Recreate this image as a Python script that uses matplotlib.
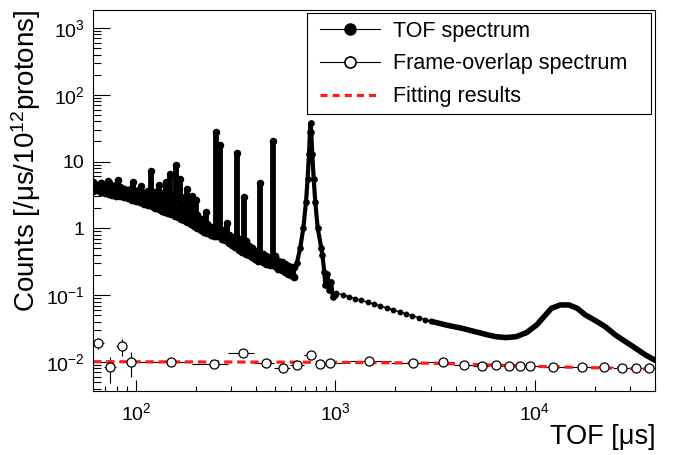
import matplotlib
matplotlib.use('Agg')
import matplotlib.pyplot as plt
import numpy as np
from matplotlib.lines import Line2D
from matplotlib.patches import Rectangle

plt.rcParams['font.family'] = ['Liberation Sans', 'DejaVu Sans']
plt.rcParams['mathtext.fontset'] = 'custom'
plt.rcParams['mathtext.rm'] = 'Liberation Sans'
plt.rcParams['mathtext.it'] = 'Liberation Sans:italic'

# TOF spectrum below ~640 us: upper / lower edge of the point band
band_x = [61, 64, 67, 70, 73, 76, 79, 83, 87, 91, 95, 100, 105, 110, 115, 120,
          125, 130, 135, 140, 145, 150, 156, 162, 168, 174, 181, 188, 195, 203,
          211, 219, 228, 237, 245, 256, 270, 280, 292, 303, 315, 330, 340, 355,
          368, 382, 396, 410, 432, 450, 468, 500, 518, 537, 557, 578, 600, 622]
band_hi = [4.9, 4.5, 4.8, 4.5, 4.7, 4.3, 4.4, 4.1, 3.9, 3.8, 4.0, 3.6, 3.9, 3.4,
           3.6, 3.3, 3.5, 3.0, 3.4, 3.3, 3.0, 3.2, 2.9, 2.8, 2.9, 2.3, 2.2, 2.0,
           1.9, 1.6, 1.4, 1.3, 1.15, 1.05, 1.0, 2.4, 0.95, 0.85, 0.80, 0.74, 0.68,
           0.70, 0.62, 0.65, 0.54, 0.50, 0.46, 0.43, 0.42, 0.38, 0.36, 0.38, 0.33,
           0.31, 0.29, 0.27, 0.26, 0.26]
band_lo = [3.6, 3.7, 3.5, 3.4, 3.3, 3.2, 3.1, 3.0, 2.9, 2.8, 2.65, 2.55, 2.45,
           2.35, 2.25, 2.15, 2.05, 1.95, 1.85, 1.78, 1.70, 1.62, 1.55, 1.48, 1.40,
           1.33, 1.25, 1.17, 1.08, 1.0, 0.93, 0.88, 0.84, 0.80, 0.77, 0.78, 0.70,
           0.66, 0.61, 0.56, 0.52, 0.47, 0.45, 0.42, 0.40, 0.37, 0.35, 0.33, 0.31,
           0.29, 0.28, 0.27, 0.25, 0.24, 0.22, 0.21, 0.20, 0.19]

# narrow resonances
peak_x = [72, 81, 97, 106, 119, 131, 142, 148, 158, 166, 180, 190, 200, 224,
          251, 263, 285, 320, 347, 420, 484]
peak_top = [5.1, 5.3, 5.0, 4.3, 7.2, 4.4, 5.0, 6.5, 8.9, 5.5, 3.9, 3.0, 2.66,
            1.76, 27.7, 17.8, 1.2, 13.5, 2.96, 4.8, 20.4]
peak_base = [3.4, 3.1, 2.6, 2.4, 2.2, 1.9, 1.75, 1.65, 1.55, 1.45, 1.25, 1.15,
             1.02, 0.86, 0.78, 0.74, 0.64, 0.5, 0.44, 0.32, 0.28]

# broad resonance near 750 us
res_x = [640, 665, 690, 712, 725, 737, 745, 750, 756, 765, 778, 792, 815, 850,
         860, 880, 890, 910, 930, 950, 970, 990]
res_y = [0.30, 0.5, 1.0, 2.5, 5.5, 13, 28, 38, 28, 13, 5.5, 2.5, 1.0, 0.5,
         0.40, 0.22, 0.14, 0.21, 0.12, 0.16, 0.095, 0.10]

# smooth part, 1-3 ms
tail1_x = [1010, 1090, 1170, 1260, 1350, 1450, 1560, 1680, 1810, 1950, 2100,
           2260, 2430, 2620, 2820, 3030]
tail1_y = [0.107, 0.101, 0.0953, 0.0889, 0.0839, 0.0786, 0.0736, 0.0689, 0.0643,
           0.0602, 0.0562, 0.0527, 0.0493, 0.0460, 0.0431, 0.0405]

# smooth part, 3-40 ms
tail2_x = [3030, 3300, 3580, 3920, 4320, 4750, 5250, 5780, 6380, 7160, 8050,
           9070, 10200, 11100, 12100, 13400, 14800, 16300, 17900, 20100, 22500,
           25300, 28500, 32000, 35900, 40300]
tail2_y = [0.0405, 0.038, 0.0358, 0.0338, 0.0319, 0.0296, 0.0275, 0.0255, 0.0239,
           0.0232, 0.0239, 0.0275, 0.0358, 0.0476, 0.0636, 0.0714, 0.0714, 0.0636,
           0.0506, 0.0416, 0.0338, 0.0254, 0.0201, 0.0160, 0.0127, 0.0105]

# frame-overlap spectrum
fo_x = [64.6, 74, 85, 94.4, 150, 245, 343, 447, 543, 638, 750, 841, 944, 1480,
        2455, 3467, 4415, 5430, 6383, 7410, 8410, 9440, 12300, 17200, 22100,
        27200, 32000, 37150]
fo_y = [0.0192, 0.0084, 0.0174, 0.0100, 0.0100, 0.0094, 0.0137, 0.0097, 0.0081,
        0.0090, 0.0126, 0.0094, 0.0097, 0.0104, 0.0097, 0.0100, 0.0090, 0.0088,
        0.0090, 0.0086, 0.0088, 0.0086, 0.0084, 0.0083, 0.0083, 0.0082, 0.0082,
        0.0080]
fo_err = [0.0035, 0.0035, 0.0050, 0.0040, 0.0008, 0.0008, 0.0008, 0.0007, 0.0007,
          0.0007, 0.0008, 0.0007, 0.0007, 0.0004, 0.0004, 0.0004, 0.0004, 0.0004,
          0.0004, 0.0004, 0.0004, 0.0004, 0.0003, 0.0003, 0.0003, 0.0003, 0.0003,
          0.0003]

# fit
fit_x = [61, 1000, 3000, 10000, 40000]
fit_y = [0.0101, 0.0099, 0.0096, 0.0086, 0.0078]

yticks = [1e-2, 1e-1, 1, 10, 100, 1000]
ytick_labels = ['$10^{-2}$', '$10^{-1}$', '1', '10', '$10^{2}$', '$10^{3}$']
xticks = [100, 1000, 10000]
xtick_labels = ['$10^{2}$', '$10^{3}$', '$10^{4}$']

fig = plt.figure(figsize=(6.75, 4.55), dpi=100)
ax = fig.add_axes([0.1378, 0.1407, 0.8326, 0.8374])
ax.set_xscale('log')
ax.set_yscale('log')

# band: zig-zag between upper and lower edge
zx = np.repeat(band_x, 2)
zy = np.ravel(np.column_stack([band_hi, band_lo]))
ax.plot(zx, zy, '-o', color='k', lw=2.6, ms=4.6)
ax.vlines(peak_x, peak_base, peak_top, color='k', lw=4.2)
ax.plot(peak_x, peak_top, 'o', color='k', ms=4.4)
ax.plot(res_x, res_y, '-o', color='k', lw=3, ms=3.8)
ax.plot(tail1_x, tail1_y, '-o', color='k', lw=1, ms=3.2)
ax.plot(tail2_x, tail2_y, '-', color='k', lw=4, solid_capstyle='round')

# frame overlap with bin-width x bars
lx = np.log10(fo_x)
edges = np.concatenate([[2 * lx[0] - (lx[0] + lx[1]) / 2], (lx[:-1] + lx[1:]) / 2,
                        [2 * lx[-1] - (lx[-1] + lx[-2]) / 2]])
xlo = np.array(fo_x) - 10 ** edges[:-1]
xhi = 10 ** edges[1:] - np.array(fo_x)
ax.errorbar(fo_x, fo_y, yerr=fo_err, xerr=[xlo, xhi], fmt='o', color='k',
            mfc='white', mec='k', ms=6.5, mew=0.9, elinewidth=0.8, capsize=0)

ax.plot(fit_x, fit_y, '--', color='#ff1a1a', lw=2.3, dashes=(2.6, 1.5))

ax.set_xlim(60.9, 40000)
ax.set_ylim(0.00368, 1858)
ax.set_yticks(yticks)
ax.set_yticklabels(ytick_labels)
ax.set_xticks(xticks)
ax.set_xticklabels(xtick_labels)
ax.tick_params(which='both', direction='in', top=False, right=False,
               labelsize=14, width=0.8)
ax.tick_params(axis='y', which='major', length=12.2, pad=6)
ax.tick_params(axis='y', which='minor', length=5.8)
ax.tick_params(axis='x', which='major', length=8, pad=8)
ax.tick_params(axis='x', which='minor', length=3.6)
for s in ax.spines.values():
    s.set_linewidth(0.8)

ax.set_xlabel('TOF [μs]', fontsize=19.5, loc='right', labelpad=0)
ax.set_ylabel('Counts [/μs/10$^{12}$protons]', fontsize=20, loc='top', labelpad=2)

# legend: frame drawn as a box, entries placed inside it
ax.add_patch(Rectangle((0.3808, 0.727), 0.6121, 0.2651, transform=ax.transAxes,
                       fill=True, facecolor='white', edgecolor='k', lw=0.8,
                       zorder=5))
handles = [
    Line2D([], [], color='k', lw=0.8, marker='o', ms=8, mfc='k', mec='k'),
    Line2D([], [], color='k', lw=0.8, marker='o', ms=8, mfc='white', mec='k', mew=1.2),
    Line2D([], [], color='#ff1a1a', lw=2.3, ls='--', dashes=(2.2, 1.6)),
]
labels = ['TOF spectrum', 'Frame-overlap spectrum', 'Fitting results']
leg = ax.legend(handles, labels, loc='upper left', bbox_to_anchor=(0.4039, 0.972),
                fontsize=15.5, frameon=False, borderaxespad=0, borderpad=0,
                handlelength=2.8, handletextpad=0.6, labelspacing=0.55)
leg.set_zorder(6)

fig.savefig('out.png', dpi=100)
